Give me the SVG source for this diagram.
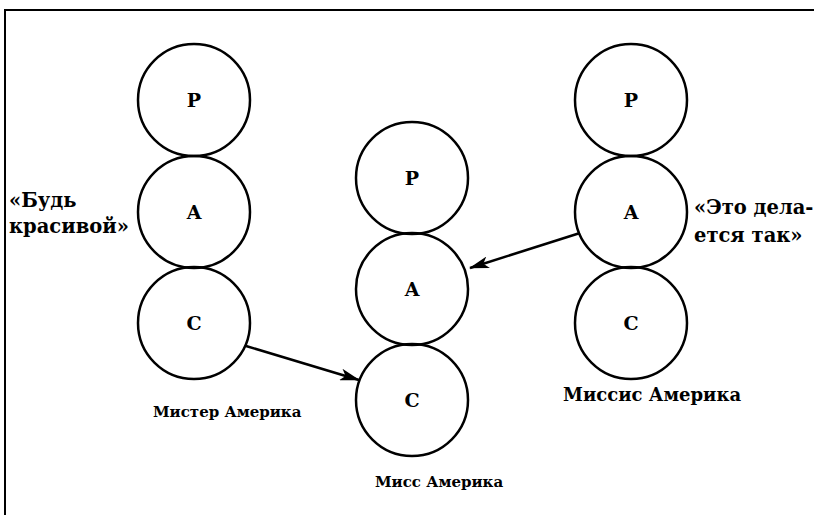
<svg xmlns="http://www.w3.org/2000/svg" width="814" height="515" viewBox="0 0 814 515">
  <style>
    .ring { fill: none; stroke: #000; stroke-width: 2.5; }
    .letter { font-family: "DejaVu Serif", "Liberation Serif", serif; font-weight: bold; font-size: 19px; text-anchor: middle; fill: #000; }
    .label { font-family: "DejaVu Serif", "Liberation Serif", serif; font-weight: bold; font-size: 15px; fill: #000; }
    .label-lg { font-family: "DejaVu Serif", "Liberation Serif", serif; font-weight: bold; font-size: 18px; fill: #000; }
    .quote { font-family: "DejaVu Serif", "Liberation Serif", serif; font-weight: bold; font-size: 19.5px; fill: #000; }
    .link { stroke: #000; stroke-width: 2.5; fill: none; marker-end: url(#head); }
  </style>
  <defs>
    <marker id="head" viewBox="0 0 20 12" refX="19" refY="6" markerWidth="20" markerHeight="12" markerUnits="userSpaceOnUse" orient="auto">
      <path d="M0,0 L20,6 L0,12 L5,6 Z" fill="#000"/>
    </marker>
  </defs>

  <rect width="814" height="515" fill="#fff"/>

  <!-- frame -->
  <path d="M5,515 L5,10 L814,10" fill="none" stroke="#000" stroke-width="2"/>

  <!-- Mister America -->
  <g id="mister-p"><circle class="ring" cx="194" cy="100" r="56"/><text class="letter" x="194" y="107">P</text></g>
  <g id="mister-a"><circle class="ring" cx="194" cy="212" r="56"/><text class="letter" x="194" y="219">A</text></g>
  <g id="mister-c"><circle class="ring" cx="194" cy="323" r="56"/><text class="letter" x="194" y="330">C</text></g>
  <g id="mister-label"><text class="label" x="153" y="417">Мистер  Америка</text></g>
  <g id="mister-quote">
    <text class="quote" x="9" y="207">«Будь</text>
    <text class="quote" x="9" y="233">красивой»</text>
  </g>

  <!-- Miss America -->
  <g id="miss-p"><circle class="ring" cx="412" cy="178" r="56"/><text class="letter" x="412" y="185">P</text></g>
  <g id="miss-a"><circle class="ring" cx="412" cy="289" r="56"/><text class="letter" x="412" y="296">A</text></g>
  <g id="miss-c"><circle class="ring" cx="412" cy="400" r="56"/><text class="letter" x="412" y="407">C</text></g>
  <g id="miss-label"><text class="label" x="375" y="487">Мисс  Америка</text></g>

  <!-- Missis America -->
  <g id="missis-p"><circle class="ring" cx="631" cy="100" r="56"/><text class="letter" x="631" y="107">P</text></g>
  <g id="missis-a"><circle class="ring" cx="631" cy="212" r="56"/><text class="letter" x="631" y="219">A</text></g>
  <g id="missis-c"><circle class="ring" cx="631" cy="323" r="56"/><text class="letter" x="631" y="330">C</text></g>
  <g id="missis-label"><text class="label-lg" x="563" y="401">Миссис  Америка</text></g>
  <g id="missis-quote">
    <text class="quote" x="694" y="214">«Это  дела-</text>
    <text class="quote" x="694" y="242">ется  так»</text>
  </g>

  <!-- connectors -->
  <g id="connectors">
    <line class="link" x1="246" y1="346" x2="359" y2="380"/>
    <line class="link" x1="580" y1="233" x2="470" y2="268"/>
  </g>
</svg>
